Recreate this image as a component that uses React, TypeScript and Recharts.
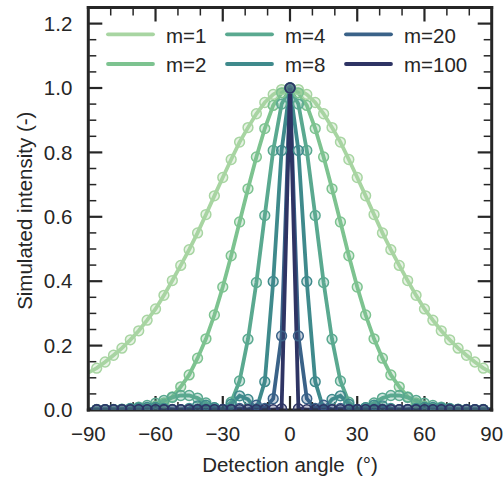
import React from 'react'
import { LineChart, Line, XAxis, YAxis, Label } from 'recharts'

const FONT = '"Liberation Sans", Arial, Helvetica, sans-serif'
const INK = '#262626'
const FS = 20.5

// detection angles (deg), one sample every 3.75 deg
const angles = [
  -90, -86.25, -82.5, -78.75, -75, -71.25, -67.5, -63.75, -60, -56.25, -52.5, -48.75, -45,
  -41.25, -37.5, -33.75, -30, -26.25, -22.5, -18.75, -15, -11.25, -7.5, -3.75, 0,
  3.75, 7.5, 11.25, 15, 18.75, 22.5, 26.25, 30, 33.75, 37.5, 41.25, 45, 48.75,
  52.5, 56.25, 60, 63.75, 67.5, 71.25, 75, 78.75, 82.5, 86.25, 90,
]

const m1 = [
  0.116, 0.13, 0.149, 0.17, 0.192, 0.218, 0.246, 0.279, 0.314, 0.356, 0.402, 0.449, 0.498,
  0.55, 0.607, 0.665, 0.722, 0.778, 0.832, 0.877, 0.92, 0.955, 0.98, 0.995, 1.0,
  0.995, 0.98, 0.955, 0.92, 0.877, 0.832, 0.778, 0.722, 0.665, 0.607, 0.55, 0.498, 0.449,
  0.402, 0.356, 0.314, 0.279, 0.246, 0.218, 0.192, 0.17, 0.149, 0.13, 0.116,
]
const m2 = [
  0.002, 0.002, 0.001, 0.001, 0.001, 0.001, 0.003, 0.006, 0.012, 0.022, 0.041, 0.072, 0.109,
  0.161, 0.221, 0.295, 0.382, 0.479, 0.584, 0.687, 0.786, 0.874, 0.946, 0.985, 1.0,
  0.985, 0.946, 0.874, 0.786, 0.687, 0.584, 0.479, 0.382, 0.295, 0.221, 0.161, 0.109, 0.072,
  0.041, 0.022, 0.012, 0.006, 0.003, 0.001, 0.001, 0.001, 0.001, 0.002, 0.002,
]
const m4 = [
  0.001, 0.001, 0.001, 0.002, 0.003, 0.005, 0.009, 0.014, 0.021, 0.03, 0.039, 0.045, 0.045,
  0.037, 0.022, 0.007, 0.001, 0.024, 0.09, 0.22, 0.396, 0.604, 0.806, 0.95, 1.0,
  0.95, 0.806, 0.604, 0.396, 0.22, 0.09, 0.024, 0.001, 0.007, 0.022, 0.037, 0.045, 0.045,
  0.039, 0.03, 0.021, 0.014, 0.009, 0.005, 0.003, 0.002, 0.001, 0.001, 0.001,
]
const m8 = [
  0.001, 0.001, 0.001, 0.001, 0.002, 0.004, 0.006, 0.008, 0.008, 0.005, 0.002, 0.001, 0.005,
  0.013, 0.015, 0.007, 0.001, 0.018, 0.044, 0.033, 0.002, 0.088, 0.399, 0.806, 1.0,
  0.806, 0.399, 0.088, 0.002, 0.033, 0.044, 0.018, 0.001, 0.007, 0.015, 0.013, 0.005, 0.001,
  0.002, 0.005, 0.008, 0.008, 0.006, 0.004, 0.002, 0.001, 0.001, 0.001, 0.001,
]
const m20 = [
  0.001, 0.001, 0.001, 0.001, 0.001, 0.001, 0.001, 0.001, 0.001, 0.001, 0.001, 0.001, 0.001,
  0.002, 0.001, 0.002, 0.002, 0.002, 0.005, 0.001, 0.015, 0.005, 0.035, 0.23, 1.0,
  0.23, 0.035, 0.005, 0.015, 0.001, 0.005, 0.002, 0.002, 0.002, 0.001, 0.002, 0.001, 0.001,
  0.001, 0.001, 0.001, 0.001, 0.001, 0.001, 0.001, 0.001, 0.001, 0.001, 0.001,
]
const m100 = [
  0.001, 0.001, 0.001, 0.001, 0.001, 0.001, 0.001, 0.001, 0.001, 0.001, 0.001, 0.001, 0.001,
  0.001, 0.001, 0.001, 0.001, 0.001, 0.001, 0.001, 0.001, 0.001, 0.001, 0.004, 1.0,
  0.004, 0.001, 0.001, 0.001, 0.001, 0.001, 0.001, 0.001, 0.001, 0.001, 0.001, 0.001, 0.001,
  0.001, 0.001, 0.001, 0.001, 0.001, 0.001, 0.001, 0.001, 0.001, 0.001, 0.001,
]

const xLabelTicks = [-90, -60, -30, 0, 30, 60, 90]
const xMajor = [-60, -30, 0, 30, 60]
const xMinor = [-80, -70, -50, -40, -20, -10, 10, 20, 40, 50, 70, 80]
const yLabelTicks = [0, 0.2, 0.4, 0.6, 0.8, 1.0, 1.2]
const yMajor = [0.2, 0.4, 0.6, 0.8, 1.0, 1.2]
const yMinor = [
  0.05, 0.1, 0.15, 0.25, 0.3, 0.35, 0.45, 0.5, 0.55, 0.65, 0.7, 0.75, 0.85, 0.9, 0.95, 1.05,
  1.1, 1.15,
]

const series = [
  { key: 'm1', label: 'm=1', color: '#a8d5a2', values: m1 },
  { key: 'm2', label: 'm=2', color: '#7dc390', values: m2 },
  { key: 'm4', label: 'm=4', color: '#5aa990', values: m4 },
  { key: 'm8', label: 'm=8', color: '#3f8a8c', values: m8 },
  { key: 'm20', label: 'm=20', color: '#3a6288', values: m20 },
  { key: 'm100', label: 'm=100', color: '#2e3464', values: m100 },
]

const data = angles.map((angle, i) => {
  const row: Record<string, number> = { angle }
  series.forEach((s) => {
    row[s.key] = s.values[i]
  })
  return row
})

const W = 504
const H = 481
const margin = { top: 7.5, right: 12.3, bottom: 16, left: 28.3 }

const fmtX = (v: number) => (v < 0 ? `\u2212${-v}` : `${v}`)
const fmtY = (v: number) => v.toFixed(1)
const noLabel = () => <g />

function makeDot(color: string) {
  return (props: any) => {
    const { cx, cy, index } = props
    if (cx == null || cy == null || index === 0 || index === angles.length - 1) {
      return <g key={`d-${index}`} />
    }
    return (
      <circle
        key={`d-${index}`}
        cx={cx}
        cy={cy}
        r={4.9}
        fill={color}
        fillOpacity={0.28}
        stroke={color}
        strokeWidth={1.5}
      />
    )
  }
}

// pairs of mirrored axes that draw the inward ticks on all four sides
const tickAxisPairs = [
  ['xb1', 'yl1'],
  ['xb2', 'yl2'],
  ['xt1', 'yr1'],
  ['xt2', 'yr2'],
]

function tickAxes() {
  const major = { stroke: INK, strokeWidth: 2.2 }
  const minor = { stroke: INK, strokeWidth: 1.5 }
  const frame = { stroke: INK, strokeWidth: 3, strokeLinecap: 'square' }
  const common = { type: 'number' as const, allowDataOverflow: true, mirror: true, interval: 0 as const, tick: noLabel }
  return [
    <XAxis key="xb1" xAxisId="xb1" dataKey="angle" orientation="bottom" domain={[-90, 90]} ticks={xMajor} tickSize={14} tickLine={major} height={1} axisLine={false} {...common} />,
    <XAxis key="xb2" xAxisId="xb2" dataKey="angle" orientation="bottom" domain={[-90, 90]} ticks={xMinor} tickSize={7} tickLine={minor} height={1} axisLine={false} {...common} />,
    <XAxis key="xt1" xAxisId="xt1" dataKey="angle" orientation="top" domain={[-90, 90]} ticks={xMajor} tickSize={14} tickLine={major} height={1} axisLine={frame} {...common} />,
    <XAxis key="xt2" xAxisId="xt2" dataKey="angle" orientation="top" domain={[-90, 90]} ticks={xMinor} tickSize={7} tickLine={minor} height={1} axisLine={false} {...common} />,
    <YAxis key="yl1" yAxisId="yl1" orientation="left" domain={[0, 1.25]} ticks={yMajor} tickSize={14} tickLine={major} width={1} axisLine={false} {...common} />,
    <YAxis key="yl2" yAxisId="yl2" orientation="left" domain={[0, 1.25]} ticks={yMinor} tickSize={7} tickLine={minor} width={1} axisLine={false} {...common} />,
    <YAxis key="yr1" yAxisId="yr1" orientation="right" domain={[0, 1.25]} ticks={yMajor} tickSize={14} tickLine={major} width={1} axisLine={frame} {...common} />,
    <YAxis key="yr2" yAxisId="yr2" orientation="right" domain={[0, 1.25]} ticks={yMinor} tickSize={7} tickLine={minor} width={1} axisLine={false} {...common} />,
  ]
}

function Legend3() {
  // column-major legend, 3 columns x 2 rows
  const colX = [108, 227, 346]
  const rowY = [34.3, 64]
  const rowBase = [42.7, 71.7]
  return (
    <svg width={W} height={H} style={{ position: 'absolute', left: 0, top: 0, pointerEvents: 'none' }}>
      {series.map((s, i) => {
        const c = Math.floor(i / 2)
        const r = i % 2
        return (
          <g key={s.key}>
            <line x1={colX[c]} x2={colX[c] + 45} y1={rowY[r]} y2={rowY[r]} stroke={s.color} strokeWidth={3.8} strokeLinecap="round" />
            <text x={colX[c] + 58} y={rowBase[r]} fill={INK} fontSize={FS} fontFamily={FONT}>
              {s.label}
            </text>
          </g>
        )
      })}
    </svg>
  )
}

export default function App() {
  return (
    <div style={{ position: 'absolute', left: 0, top: 0, width: W, height: H, background: '#fff' }}>
      <LineChart width={W} height={H} data={data} margin={margin}>
        <XAxis
          dataKey="angle"
          type="number"
          domain={[-90, 90]}
          allowDataOverflow
          ticks={xLabelTicks}
          interval={0}
          tickFormatter={fmtX}
          tick={{ fill: INK, fontSize: FS, fontFamily: FONT }}
          tickLine={false}
          tickSize={0}
          tickMargin={16}
          axisLine={{ stroke: INK, strokeWidth: 3, strokeLinecap: 'square' }}
          height={55}
        >
          <Label
            content={(p: any) => {
              const vb = p.viewBox || { x: 88.3, y: 410, width: 403.4 }
              return (
                <text x={vb.x + vb.width / 2} y={vb.y + 61.5} textAnchor="middle" fill={INK} fontSize={FS} fontFamily={FONT} style={{ whiteSpace: 'pre' }}>
                  {'Detection angle  (°)'}
                </text>
              )
            }}
          />
        </XAxis>
        <YAxis
          type="number"
          domain={[0, 1.25]}
          allowDataOverflow
          ticks={yLabelTicks}
          interval={0}
          tickFormatter={fmtY}
          tick={{ fill: INK, fontSize: FS, fontFamily: FONT }}
          tickLine={false}
          tickSize={0}
          tickMargin={16}
          axisLine={{ stroke: INK, strokeWidth: 3, strokeLinecap: 'square' }}
          width={60}
        >
          <Label
            content={(p: any) => {
              const vb = p.viewBox || { x: 28.3, y: 7.5, height: 402.5 }
              const cx = vb.x + 3.7
              const cy = vb.y + vb.height / 2 + 2
              return (
                <text x={cx} y={cy} transform={`rotate(-90 ${cx} ${cy})`} textAnchor="middle" fill={INK} fontSize={FS} fontFamily={FONT}>
                  Simulated intensity (-)
                </text>
              )
            }}
          />
        </YAxis>
        {tickAxes()}
        {tickAxisPairs.map(([xa, ya]) => (
          <Line
            key={`ghost-${xa}`}
            xAxisId={xa}
            yAxisId={ya}
            dataKey="m1"
            stroke="none"
            strokeWidth={0}
            dot={false}
            activeDot={false}
            legendType="none"
            isAnimationActive={false}
          />
        ))}
        {series.map((s) => (
          <Line
            key={s.key}
            dataKey={s.key}
            type="linear"
            stroke={s.color}
            strokeWidth={3.8}
            dot={makeDot(s.color)}
            activeDot={false}
            isAnimationActive={false}
          />
        ))}
      </LineChart>
      <Legend3 />
    </div>
  )
}
